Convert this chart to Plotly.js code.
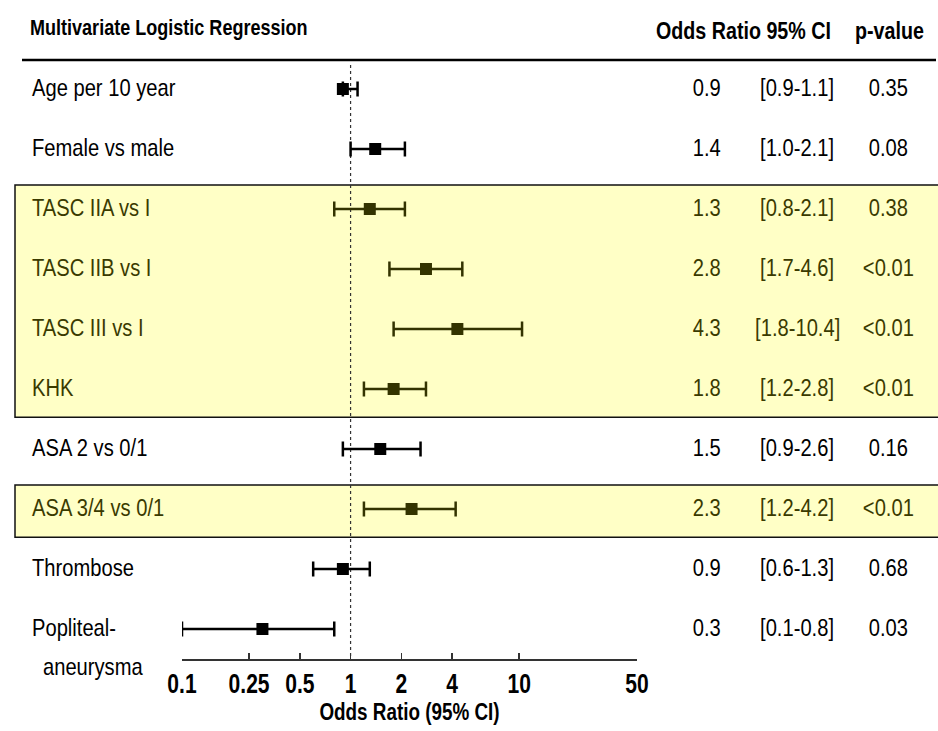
<!DOCTYPE html>
<html>
<head>
<meta charset="utf-8">
<script src="https://cdn.plot.ly/plotly-3.0.1.min.js"></script>
<style>html,body{margin:0;padding:0;background:#fff;}#chart{width:938px;height:731px;}</style>
</head>
<body>
<div id="chart"></div>
<script>
// ---- data ----
const labels = ["Age per 10 year", "Female vs male", "TASC IIA vs I", "TASC IIB vs I", "TASC III vs I", "KHK", "ASA 2 vs 0/1", "ASA 3/4 vs 0/1", "Thrombose", "Popliteal-<br>aneurysma"];
const oddsRatio = [0.9, 1.4, 1.3, 2.8, 4.3, 1.8, 1.5, 2.3, 0.9, 0.3];
const ciLow = [0.9, 1.0, 0.8, 1.7, 1.8, 1.2, 0.9, 1.2, 0.6, 0.1];
const ciHigh = [1.1, 2.1, 2.1, 4.6, 10.4, 2.8, 2.6, 4.2, 1.3, 0.8];
const orText = ["0.9", "1.4", "1.3", "2.8", "4.3", "1.8", "1.5", "2.3", "0.9", "0.3"];
const ciText = ["[0.9-1.1]", "[1.0-2.1]", "[0.8-2.1]", "[1.7-4.6]", "[1.8-10.4]", "[1.2-2.8]", "[0.9-2.6]", "[1.2-4.2]", "[0.6-1.3]", "[0.1-0.8]"];
const pText = ["0.35", "0.08", "0.38", "<0.01", "<0.01", "<0.01", "0.16", "<0.01", "0.68", "0.03"];
const highlighted = [false, false, true, true, true, true, false, true, false, false];
const tickVals = [0.1, 0.25, 0.5, 1, 2, 4, 10, 50];
const tickText = ["0.1", "0.25", "0.5", "1", "2", "4", "10", "50"];
const highlightGroups = [[2, 5], [7, 7]];

// ---- styling ----
const FONT = "'Liberation Sans', Arial, sans-serif";
const BLACK = "#000000";
const OLIVE = "#3a3a00";
const MARK_OLIVE = "#333300";
const FILL = "#ffffc6";
const W = 938, H = 731;
const px = v => v / W;

function makeTrace(flag) {
  const idx = labels.map((_, i) => i).filter(i => highlighted[i] === flag);
  return {
    type: "scatter", mode: "markers",
    x: idx.map(i => oddsRatio[i]),
    y: idx.map(i => i),
    marker: {symbol: "square", size: 12, color: flag ? MARK_OLIVE : BLACK},
    error_x: {
      type: "data", symmetric: false,
      array: idx.map(i => ciHigh[i] - oddsRatio[i]),
      arrayminus: idx.map(i => oddsRatio[i] - ciLow[i]),
      color: flag ? MARK_OLIVE : BLACK, thickness: 2.5, width: 7.5
    },
    hoverinfo: "skip", showlegend: false
  };
}

const annotations = [];
function cell(xp, i, txt, anchor, yshift) {
  annotations.push({xref: "paper", yref: "y", x: px(xp), y: i, xanchor: anchor, yanchor: "middle",
    align: anchor === "left" ? "left" : "center",
    text: txt, showarrow: false, yshift: yshift,
    font: {family: FONT, size: 24, color: highlighted[i] ? OLIVE : BLACK}});
}
labels.forEach((lab, i) => {
  lab.split("<br>").forEach((ln, k) => cell(30 + (k > 0 ? 11 : 0), i, ln, "left", 2 - 39 * k));
  cell(706, i, orText[i], "center", 2);
  cell(797, i, ciText[i], "center", 2);
  cell(888, i, pText[i], "center", 2);
});
// headers
annotations.push({xref: "paper", yref: "paper", x: px(28), y: 1 - 27 / H, xanchor: "left", yanchor: "middle", align: "left",
  text: "Multivariate Logistic Regression", showarrow: false, font: {family: FONT, size: 22, color: BLACK, weight: "bold"}});
annotations.push({xref: "paper", yref: "paper", x: px(654), y: 1 - 31 / H, xanchor: "left", yanchor: "middle", align: "left",
  text: "Odds Ratio 95% CI", showarrow: false, font: {family: FONT, size: 24, color: BLACK, weight: "bold"}});
annotations.push({xref: "paper", yref: "paper", x: px(853), y: 1 - 31 / H, xanchor: "left", yanchor: "middle", align: "left",
  text: "p-value", showarrow: false, font: {family: FONT, size: 24, color: BLACK, weight: "bold"}});

const shapes = [];
highlightGroups.forEach(g => {
  shapes.push({type: "rect", xref: "paper", yref: "y", x0: px(15), x1: px(945), y0: g[0] - 0.4, y1: g[1] + 0.47,
    fillcolor: FILL, line: {color: "#111111", width: 1.5}, layer: "below"});
});
shapes.push({type: "line", xref: "paper", yref: "paper", x0: px(22), x1: px(936), y0: 1 - 60 / H, y1: 1 - 60 / H,
  line: {color: BLACK, width: 2.5}, layer: "below"});
shapes.push({type: "line", xref: "x", yref: "paper", x0: 1, x1: 1, y0: 1 - 656 / H, y1: 1 - 62 / H,
  line: {color: "#333333", width: 1.2, dash: "dot"}, layer: "below"});

const layout = {
  width: W, height: H,
  margin: {l: 0, r: 0, t: 0, b: 0},
  paper_bgcolor: "#ffffff", plot_bgcolor: "rgba(0,0,0,0)",
  showlegend: false,
  xaxis: {
    type: "log", domain: [px(182), px(637)], range: [-1, Math.log10(50)],
    anchor: "free", position: 1 - 659 / H,
    tickvals: tickVals, ticktext: tickText, tickangle: 0,
    ticks: "inside", ticklen: 6, tickwidth: 1.5, tickcolor: "#333333",
    showline: true, linecolor: "#333333", linewidth: 1.5,
    showgrid: false, zeroline: false,
    tickfont: {family: FONT, size: 27, color: BLACK, weight: "bold"},
    title: {text: "Odds Ratio (95% CI)", font: {family: FONT, size: 23, color: BLACK, weight: "bold"}, standoff: 6}
  },
  yaxis: {
    range: [(H - 89) / 60, -89 / 60], visible: false, showgrid: false, zeroline: false
  },
  annotations: annotations,
  shapes: shapes
};

// condense all text horizontally (narrow typeface look), keeping each text's anchor point fixed
function condense(gd) {
  gd.querySelectorAll("text").forEach(t => {
    const fw = (t.style.fontWeight || "").toString();
    const bold = fw === "bold" || parseInt(fw, 10) >= 600;
    const isTick = t.closest(".xtick") !== null;
    const s = isTick ? 0.78 : (bold ? 0.82 : 0.84);
    const x = parseFloat(t.getAttribute("x")) || 0;
    const tr = t.getAttribute("transform") || "";
    t.setAttribute("transform", (tr + " translate(" + (x * (1 - s)) + ",0) scale(" + s + ",1)").trim());
  });
}

Plotly.newPlot("chart", [makeTrace(true), makeTrace(false)], layout, {staticPlot: true, displayModeBar: false})
  .then(condense);
</script>
</body>
</html>
